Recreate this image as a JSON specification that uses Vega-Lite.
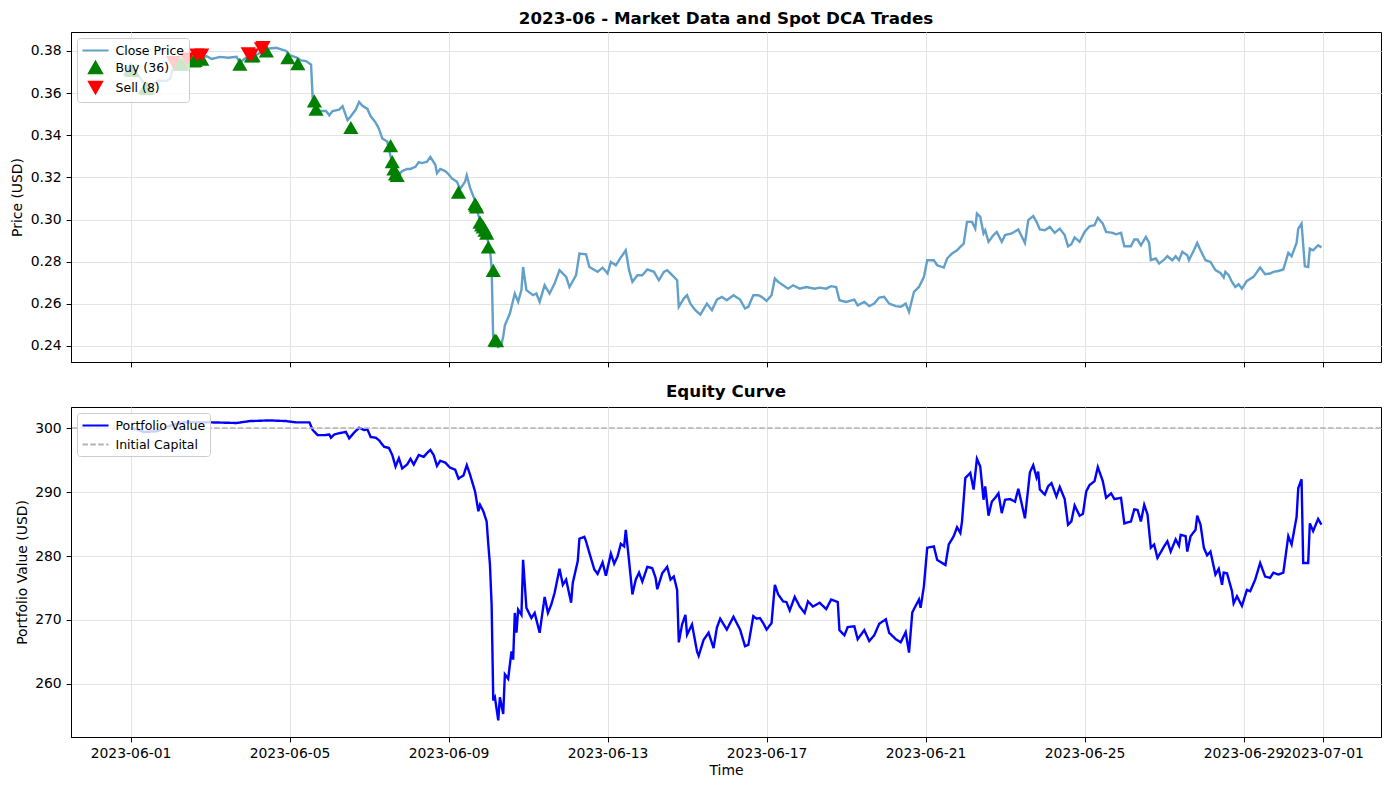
{
  "$schema": "https://vega.github.io/schema/vega-lite/v6.json",
  "padding": {"left": 10, "top": 10, "right": 9, "bottom": 5},
  "background": "white",
  "config": {
    "font": "DejaVu Sans",
    "view": {"stroke": "black", "strokeWidth": 1},
    "axis": {
      "labelFont": "DejaVu Sans", "labelFontSize": 13.9, "labelColor": "black",
      "titleFont": "DejaVu Sans", "titleFontSize": 13.9, "titleFontWeight": "normal", "titleColor": "black",
      "tickColor": "black", "tickSize": 4.9, "tickWidth": 1,
      "domainColor": "black", "domainWidth": 1,
      "gridColor": "#e3e3e3", "gridWidth": 1,
      "labelPadding": 4.9, "titlePadding": 5.6,
      "labelOverlap": false, "labelFlush": false
    },
    "axisX": {"titlePadding": 3},
    "title": {"font": "DejaVu Sans", "fontSize": 16.7, "fontWeight": "bold", "color": "black", "offset": 6, "anchor": "middle", "frame": "group"},
    "legend": {
      "orient": "top-left", "offset": 6, "padding": 4.5, "rowPadding": 2,
      "symbolSize": 170, "symbolStrokeWidth": 2, "labelOffset": 12, "symbolOffset": 6,
      "labelFont": "DejaVu Sans", "labelFontSize": 12.5, "labelColor": "black",
      "fillColor": "rgba(255,255,255,0.8)", "strokeColor": "#cccccc", "cornerRadius": 3
    }
  },
  "datasets": {
    "price": [
      {"t":"2023-06-01T00:00","p":0.3710},{"t":"2023-06-01T04:00","p":0.3690},{"t":"2023-06-01T07:00","p":0.3660},{"t":"2023-06-01T10:00","p":0.3625},{"t":"2023-06-01T13:00","p":0.3640},{"t":"2023-06-01T17:00","p":0.3660},{"t":"2023-06-01T22:00","p":0.3658},
      {"t":"2023-06-02T00:00","p":0.3670},{"t":"2023-06-02T02:00","p":0.3730},{"t":"2023-06-02T06:00","p":0.3740},{"t":"2023-06-02T11:00","p":0.3755},{"t":"2023-06-02T14:00","p":0.3760},{"t":"2023-06-02T18:00","p":0.3772},{"t":"2023-06-02T22:00","p":0.3775},
      {"t":"2023-06-03T01:00","p":0.3762},{"t":"2023-06-03T06:00","p":0.3772},{"t":"2023-06-03T11:00","p":0.3768},{"t":"2023-06-03T16:00","p":0.3772},{"t":"2023-06-03T18:00","p":0.3745},{"t":"2023-06-03T22:00","p":0.3770},
      {"t":"2023-06-04T01:00","p":0.3778},{"t":"2023-06-04T05:00","p":0.3785},{"t":"2023-06-04T08:00","p":0.3805},{"t":"2023-06-04T12:00","p":0.3812},{"t":"2023-06-04T16:00","p":0.3815},{"t":"2023-06-04T19:00","p":0.3808},{"t":"2023-06-04T22:00","p":0.3800},
      {"t":"2023-06-05T00:00","p":0.3780},{"t":"2023-06-05T04:00","p":0.3770},{"t":"2023-06-05T07:00","p":0.3755},{"t":"2023-06-05T10:00","p":0.3752},{"t":"2023-06-05T13:00","p":0.3735},{"t":"2023-06-05T14:00","p":0.3570},{"t":"2023-06-05T16:00","p":0.3530},{"t":"2023-06-05T18:00","p":0.3515},{"t":"2023-06-05T22:00","p":0.3515},
      {"t":"2023-06-06T00:00","p":0.3495},{"t":"2023-06-06T02:00","p":0.3515},{"t":"2023-06-06T06:00","p":0.3522},{"t":"2023-06-06T08:00","p":0.3538},{"t":"2023-06-06T11:00","p":0.3472},{"t":"2023-06-06T13:00","p":0.3490},{"t":"2023-06-06T16:00","p":0.3522},{"t":"2023-06-06T18:00","p":0.3558},{"t":"2023-06-06T20:00","p":0.3540},{"t":"2023-06-06T23:00","p":0.3525},
      {"t":"2023-06-07T01:00","p":0.3490},{"t":"2023-06-07T04:00","p":0.3460},{"t":"2023-06-07T06:00","p":0.3430},{"t":"2023-06-07T08:00","p":0.3385},{"t":"2023-06-07T11:00","p":0.3370},{"t":"2023-06-07T13:00","p":0.3300},{"t":"2023-06-07T16:00","p":0.3225},{"t":"2023-06-07T18:00","p":0.3215},{"t":"2023-06-07T20:00","p":0.3230},{"t":"2023-06-07T23:00","p":0.3240},
      {"t":"2023-06-08T01:00","p":0.3240},{"t":"2023-06-08T04:00","p":0.3250},{"t":"2023-06-08T06:00","p":0.3272},{"t":"2023-06-08T08:00","p":0.3268},{"t":"2023-06-08T11:00","p":0.3275},{"t":"2023-06-08T13:00","p":0.3297},{"t":"2023-06-08T16:00","p":0.3260},{"t":"2023-06-08T17:00","p":0.3220},{"t":"2023-06-08T19:00","p":0.3240},{"t":"2023-06-08T22:00","p":0.3230},
      {"t":"2023-06-09T00:00","p":0.3215},{"t":"2023-06-09T02:00","p":0.3195},{"t":"2023-06-09T05:00","p":0.3180},{"t":"2023-06-09T07:00","p":0.3145},{"t":"2023-06-09T10:00","p":0.3180},{"t":"2023-06-09T11:00","p":0.3210},{"t":"2023-06-09T13:00","p":0.3150},{"t":"2023-06-09T16:00","p":0.3090},{"t":"2023-06-09T18:00","p":0.3020},{"t":"2023-06-09T20:00","p":0.2980},{"t":"2023-06-09T23:00","p":0.2920},
      {"t":"2023-06-10T01:00","p":0.2860},{"t":"2023-06-10T02:00","p":0.2770},{"t":"2023-06-10T03:00","p":0.2420},{"t":"2023-06-10T06:00","p":0.2395},{"t":"2023-06-10T08:00","p":0.2410},{"t":"2023-06-10T09:00","p":0.2445},{"t":"2023-06-10T10:00","p":0.2498},{"t":"2023-06-10T13:00","p":0.2554},{"t":"2023-06-10T16:00","p":0.2649},{"t":"2023-06-10T18:00","p":0.2610},{"t":"2023-06-10T20:00","p":0.2665},{"t":"2023-06-10T21:00","p":0.2775},{"t":"2023-06-10T23:00","p":0.2665},
      {"t":"2023-06-11T03:00","p":0.2641},{"t":"2023-06-11T05:00","p":0.2649},{"t":"2023-06-11T07:00","p":0.2609},{"t":"2023-06-11T10:00","p":0.2688},{"t":"2023-06-11T13:00","p":0.2649},{"t":"2023-06-11T16:00","p":0.2696},{"t":"2023-06-11T19:00","p":0.2760},{"t":"2023-06-11T23:00","p":0.2728},
      {"t":"2023-06-12T01:00","p":0.2680},{"t":"2023-06-12T05:00","p":0.2736},{"t":"2023-06-12T07:00","p":0.2839},{"t":"2023-06-12T11:00","p":0.2835},{"t":"2023-06-12T13:00","p":0.2775},{"t":"2023-06-12T18:00","p":0.2752},{"t":"2023-06-12T21:00","p":0.2772},
      {"t":"2023-06-13T00:00","p":0.2744},{"t":"2023-06-13T02:00","p":0.2799},{"t":"2023-06-13T05:00","p":0.2783},{"t":"2023-06-13T08:00","p":0.2820},{"t":"2023-06-13T11:00","p":0.2854},{"t":"2023-06-13T13:00","p":0.2760},{"t":"2023-06-13T15:00","p":0.2704},{"t":"2023-06-13T18:00","p":0.2736},{"t":"2023-06-13T21:00","p":0.2736},
      {"t":"2023-06-14T00:00","p":0.2763},{"t":"2023-06-14T04:00","p":0.2752},{"t":"2023-06-14T07:00","p":0.2712},{"t":"2023-06-14T10:00","p":0.2752},{"t":"2023-06-14T12:00","p":0.2760},{"t":"2023-06-14T15:00","p":0.2736},{"t":"2023-06-14T18:00","p":0.2712},{"t":"2023-06-14T19:00","p":0.2586},{"t":"2023-06-14T22:00","p":0.2625},
      {"t":"2023-06-15T00:00","p":0.2641},{"t":"2023-06-15T02:00","p":0.2601},{"t":"2023-06-15T05:00","p":0.2570},{"t":"2023-06-15T08:00","p":0.2549},{"t":"2023-06-15T12:00","p":0.2601},{"t":"2023-06-15T15:00","p":0.2570},{"t":"2023-06-15T18:00","p":0.2620},{"t":"2023-06-15T21:00","p":0.2633},
      {"t":"2023-06-16T00:00","p":0.2617},{"t":"2023-06-16T04:00","p":0.2641},{"t":"2023-06-16T08:00","p":0.2620},{"t":"2023-06-16T11:00","p":0.2578},{"t":"2023-06-16T13:00","p":0.2586},{"t":"2023-06-16T16:00","p":0.2641},{"t":"2023-06-16T19:00","p":0.2641},{"t":"2023-06-16T21:00","p":0.2633},
      {"t":"2023-06-17T00:00","p":0.2614},{"t":"2023-06-17T03:00","p":0.2641},{"t":"2023-06-17T05:00","p":0.2720},{"t":"2023-06-17T07:00","p":0.2704},{"t":"2023-06-17T10:00","p":0.2688},{"t":"2023-06-17T13:00","p":0.2672},{"t":"2023-06-17T16:00","p":0.2688},{"t":"2023-06-17T20:00","p":0.2672},
      {"t":"2023-06-18T00:00","p":0.2680},{"t":"2023-06-18T05:00","p":0.2672},{"t":"2023-06-18T08:00","p":0.2677},{"t":"2023-06-18T12:00","p":0.2672},{"t":"2023-06-18T15:00","p":0.2684},{"t":"2023-06-18T18:00","p":0.2680},{"t":"2023-06-18T20:00","p":0.2617},
      {"t":"2023-06-19T00:00","p":0.2609},{"t":"2023-06-19T05:00","p":0.2620},{"t":"2023-06-19T07:00","p":0.2593},{"t":"2023-06-19T11:00","p":0.2609},{"t":"2023-06-19T14:00","p":0.2589},{"t":"2023-06-19T17:00","p":0.2601},{"t":"2023-06-19T20:00","p":0.2630},{"t":"2023-06-19T23:00","p":0.2633},
      {"t":"2023-06-20T02:00","p":0.2601},{"t":"2023-06-20T06:00","p":0.2589},{"t":"2023-06-20T09:00","p":0.2586},{"t":"2023-06-20T12:00","p":0.2601},{"t":"2023-06-20T14:00","p":0.2562},{"t":"2023-06-20T17:00","p":0.2657},{"t":"2023-06-20T20:00","p":0.2680},{"t":"2023-06-20T23:00","p":0.2728},
      {"t":"2023-06-21T01:00","p":0.2807},{"t":"2023-06-21T05:00","p":0.2807},{"t":"2023-06-21T07:00","p":0.2783},{"t":"2023-06-21T11:00","p":0.2772},{"t":"2023-06-21T13:00","p":0.2815},{"t":"2023-06-21T16:00","p":0.2839},{"t":"2023-06-21T19:00","p":0.2854},{"t":"2023-06-21T21:00","p":0.2870},{"t":"2023-06-21T23:00","p":0.2886},
      {"t":"2023-06-22T01:00","p":0.2989},{"t":"2023-06-22T04:00","p":0.2989},{"t":"2023-06-22T06:00","p":0.2957},{"t":"2023-06-22T07:00","p":0.3028},{"t":"2023-06-22T09:00","p":0.3013},{"t":"2023-06-22T11:00","p":0.2934},{"t":"2023-06-22T12:00","p":0.2949},{"t":"2023-06-22T14:00","p":0.2894},{"t":"2023-06-22T17:00","p":0.2926},{"t":"2023-06-22T19:00","p":0.2941},{"t":"2023-06-22T22:00","p":0.2894},
      {"t":"2023-06-23T00:00","p":0.2926},{"t":"2023-06-23T04:00","p":0.2934},{"t":"2023-06-23T08:00","p":0.2953},{"t":"2023-06-23T12:00","p":0.2889},{"t":"2023-06-23T14:00","p":0.2997},{"t":"2023-06-23T17:00","p":0.3016},{"t":"2023-06-23T19:00","p":0.2989},{"t":"2023-06-23T21:00","p":0.2953},
      {"t":"2023-06-24T00:00","p":0.2949},{"t":"2023-06-24T03:00","p":0.2965},{"t":"2023-06-24T06:00","p":0.2937},{"t":"2023-06-24T09:00","p":0.2957},{"t":"2023-06-24T12:00","p":0.2926},{"t":"2023-06-24T14:00","p":0.2873},{"t":"2023-06-24T16:00","p":0.2883},{"t":"2023-06-24T18:00","p":0.2915},{"t":"2023-06-24T21:00","p":0.2894},
      {"t":"2023-06-25T00:00","p":0.2941},{"t":"2023-06-25T03:00","p":0.2968},{"t":"2023-06-25T06:00","p":0.2973},{"t":"2023-06-25T08:00","p":0.3009},{"t":"2023-06-25T11:00","p":0.2981},{"t":"2023-06-25T13:00","p":0.2941},{"t":"2023-06-25T17:00","p":0.2937},{"t":"2023-06-25T19:00","p":0.2930},{"t":"2023-06-25T22:00","p":0.2937},
      {"t":"2023-06-26T00:00","p":0.2873},{"t":"2023-06-26T04:00","p":0.2873},{"t":"2023-06-26T06:00","p":0.2905},{"t":"2023-06-26T08:00","p":0.2905},{"t":"2023-06-26T10:00","p":0.2878},{"t":"2023-06-26T13:00","p":0.2918},{"t":"2023-06-26T15:00","p":0.2889},{"t":"2023-06-26T16:00","p":0.2807},{"t":"2023-06-26T19:00","p":0.2815},{"t":"2023-06-26T21:00","p":0.2791},
      {"t":"2023-06-27T00:00","p":0.2810},{"t":"2023-06-27T02:00","p":0.2826},{"t":"2023-06-27T05:00","p":0.2807},{"t":"2023-06-27T07:00","p":0.2826},{"t":"2023-06-27T09:00","p":0.2807},{"t":"2023-06-27T11:00","p":0.2847},{"t":"2023-06-27T14:00","p":0.2831},{"t":"2023-06-27T15:00","p":0.2807},{"t":"2023-06-27T18:00","p":0.2854},{"t":"2023-06-27T20:00","p":0.2889},{"t":"2023-06-27T22:00","p":0.2854},
      {"t":"2023-06-28T01:00","p":0.2807},{"t":"2023-06-28T04:00","p":0.2799},{"t":"2023-06-28T07:00","p":0.2760},{"t":"2023-06-28T10:00","p":0.2747},{"t":"2023-06-28T12:00","p":0.2725},{"t":"2023-06-28T13:00","p":0.2752},{"t":"2023-06-28T15:00","p":0.2736},{"t":"2023-06-28T17:00","p":0.2704},{"t":"2023-06-28T19:00","p":0.2680},{"t":"2023-06-28T21:00","p":0.2693},{"t":"2023-06-28T23:00","p":0.2672},
      {"t":"2023-06-29T02:00","p":0.2709},{"t":"2023-06-29T06:00","p":0.2728},{"t":"2023-06-29T10:00","p":0.2772},{"t":"2023-06-29T13:00","p":0.2741},{"t":"2023-06-29T16:00","p":0.2744},{"t":"2023-06-29T18:00","p":0.2752},{"t":"2023-06-29T21:00","p":0.2756},
      {"t":"2023-06-30T00:00","p":0.2763},{"t":"2023-06-30T03:00","p":0.2842},{"t":"2023-06-30T05:00","p":0.2826},{"t":"2023-06-30T08:00","p":0.2889},{"t":"2023-06-30T09:00","p":0.2957},{"t":"2023-06-30T11:00","p":0.2981},{"t":"2023-06-30T13:00","p":0.2778},{"t":"2023-06-30T15:00","p":0.2775},{"t":"2023-06-30T16:00","p":0.2862},{"t":"2023-06-30T18:00","p":0.2854},{"t":"2023-06-30T21:00","p":0.2878},{"t":"2023-06-30T23:00","p":0.2868}
    ],
    "buys": [
      {"t":"2023-06-01T00:00","p":0.3713},{"t":"2023-06-01T01:00","p":0.3708},{"t":"2023-06-01T09:00","p":0.3626},{"t":"2023-06-01T10:00","p":0.3622},
      {"t":"2023-06-02T06:00","p":0.3737},{"t":"2023-06-02T07:00","p":0.3739},{"t":"2023-06-02T14:00","p":0.3753},{"t":"2023-06-02T15:00","p":0.3755},{"t":"2023-06-02T19:00","p":0.3761},
      {"t":"2023-06-03T18:00","p":0.3737},{"t":"2023-06-04T01:00","p":0.3776},{"t":"2023-06-04T02:00","p":0.3778},{"t":"2023-06-04T10:00","p":0.3800},{"t":"2023-06-04T23:00","p":0.3768},
      {"t":"2023-06-05T05:00","p":0.3740},{"t":"2023-06-05T15:00","p":0.3563},{"t":"2023-06-05T16:00","p":0.3524},{"t":"2023-06-06T13:00","p":0.3437},
      {"t":"2023-06-07T13:00","p":0.3351},{"t":"2023-06-07T14:00","p":0.3275},{"t":"2023-06-07T15:00","p":0.3240},{"t":"2023-06-07T16:00","p":0.3217},{"t":"2023-06-07T17:00","p":0.3209},
      {"t":"2023-06-09T06:00","p":0.3130},{"t":"2023-06-09T16:00","p":0.3075},{"t":"2023-06-09T16:30","p":0.3068},{"t":"2023-06-09T17:00","p":0.3060},{"t":"2023-06-09T19:00","p":0.2988},{"t":"2023-06-09T20:00","p":0.2975},{"t":"2023-06-09T21:00","p":0.2965},{"t":"2023-06-09T22:00","p":0.2949},{"t":"2023-06-09T23:00","p":0.2935},
      {"t":"2023-06-10T00:00","p":0.2870},{"t":"2023-06-10T03:00","p":0.2759},{"t":"2023-06-10T04:00","p":0.2428},{"t":"2023-06-10T05:00","p":0.2425}
    ],
    "sells": [
      {"t":"2023-06-02T02:00","p":0.3745},{"t":"2023-06-02T10:00","p":0.3761},{"t":"2023-06-02T16:00","p":0.3781},{"t":"2023-06-02T19:00","p":0.3781},
      {"t":"2023-06-03T23:00","p":0.3787},{"t":"2023-06-04T01:00","p":0.3780},{"t":"2023-06-04T07:00","p":0.3810},{"t":"2023-06-04T08:00","p":0.3816}
    ],
    "equity": [
      {"t":"2023-06-01T00:00","v":300.0},{"t":"2023-06-01T04:00","v":299.8},{"t":"2023-06-01T08:00","v":299.4},{"t":"2023-06-01T16:00","v":299.5},
      {"t":"2023-06-02T00:00","v":300.4},{"t":"2023-06-02T08:00","v":300.9},{"t":"2023-06-03T00:00","v":300.9},{"t":"2023-06-03T16:00","v":300.8},
      {"t":"2023-06-04T00:00","v":301.1},{"t":"2023-06-04T12:00","v":301.2},{"t":"2023-06-04T22:00","v":301.1},
      {"t":"2023-06-05T04:00","v":300.9},{"t":"2023-06-05T12:00","v":300.9},{"t":"2023-06-05T14:00","v":299.7},{"t":"2023-06-05T17:00","v":298.9},{"t":"2023-06-05T21:00","v":298.9},
      {"t":"2023-06-06T00:00","v":299.0},{"t":"2023-06-06T01:00","v":298.5},{"t":"2023-06-06T03:00","v":299.0},{"t":"2023-06-06T06:00","v":299.2},{"t":"2023-06-06T10:00","v":299.4},{"t":"2023-06-06T12:00","v":298.4},{"t":"2023-06-06T15:00","v":299.3},{"t":"2023-06-06T18:00","v":300.05},{"t":"2023-06-06T21:00","v":299.7},{"t":"2023-06-06T23:00","v":299.8},
      {"t":"2023-06-07T01:00","v":298.6},{"t":"2023-06-07T04:00","v":298.5},{"t":"2023-06-07T06:00","v":298.1},{"t":"2023-06-07T09:00","v":297.1},{"t":"2023-06-07T12:00","v":296.9},{"t":"2023-06-07T14:00","v":295.8},{"t":"2023-06-07T16:00","v":294.0},{"t":"2023-06-07T18:00","v":295.3},{"t":"2023-06-07T20:00","v":293.7},{"t":"2023-06-07T23:00","v":294.3},
      {"t":"2023-06-08T01:00","v":295.2},{"t":"2023-06-08T03:00","v":294.3},{"t":"2023-06-08T06:00","v":295.8},{"t":"2023-06-08T09:00","v":295.5},{"t":"2023-06-08T11:00","v":296.1},{"t":"2023-06-08T13:00","v":296.6},{"t":"2023-06-08T15:00","v":295.8},{"t":"2023-06-08T17:00","v":294.1},{"t":"2023-06-08T19:00","v":294.9},{"t":"2023-06-08T22:00","v":294.6},
      {"t":"2023-06-09T01:00","v":293.8},{"t":"2023-06-09T04:00","v":293.5},{"t":"2023-06-09T06:00","v":292.1},{"t":"2023-06-09T09:00","v":292.6},{"t":"2023-06-09T11:00","v":294.2},{"t":"2023-06-09T13:00","v":292.7},{"t":"2023-06-09T16:00","v":290.1},{"t":"2023-06-09T18:00","v":287.0},{"t":"2023-06-09T19:00","v":288.0},{"t":"2023-06-09T21:00","v":287.0},{"t":"2023-06-09T23:00","v":285.4},
      {"t":"2023-06-10T00:00","v":281.8},{"t":"2023-06-10T01:00","v":278.6},{"t":"2023-06-10T02:00","v":272.4},{"t":"2023-06-10T03:00","v":257.4},{"t":"2023-06-10T04:00","v":257.9},{"t":"2023-06-10T06:00","v":254.3},{"t":"2023-06-10T07:00","v":257.9},{"t":"2023-06-10T09:00","v":255.3},{"t":"2023-06-10T10:00","v":261.5},{"t":"2023-06-10T12:00","v":260.8},{"t":"2023-06-10T14:00","v":265.1},{"t":"2023-06-10T15:00","v":263.8},{"t":"2023-06-10T16:00","v":271.1},{"t":"2023-06-10T17:00","v":268.0},{"t":"2023-06-10T18:00","v":271.6},{"t":"2023-06-10T20:00","v":270.8},{"t":"2023-06-10T21:00","v":279.4},{"t":"2023-06-10T23:00","v":271.9},
      {"t":"2023-06-11T02:00","v":270.3},{"t":"2023-06-11T04:00","v":271.1},{"t":"2023-06-11T07:00","v":268.0},{"t":"2023-06-11T10:00","v":273.6},{"t":"2023-06-11T12:00","v":271.1},{"t":"2023-06-11T14:00","v":272.4},{"t":"2023-06-11T16:00","v":274.2},{"t":"2023-06-11T19:00","v":278.0},{"t":"2023-06-11T21:00","v":275.5},{"t":"2023-06-11T23:00","v":276.3},
      {"t":"2023-06-12T02:00","v":272.7},{"t":"2023-06-12T03:00","v":275.8},{"t":"2023-06-12T06:00","v":279.2},{"t":"2023-06-12T07:00","v":282.7},{"t":"2023-06-12T10:00","v":283.0},{"t":"2023-06-12T11:00","v":282.3},{"t":"2023-06-12T13:00","v":280.5},{"t":"2023-06-12T16:00","v":277.9},{"t":"2023-06-12T18:00","v":277.2},{"t":"2023-06-12T21:00","v":279.0},{"t":"2023-06-12T23:00","v":276.9},
      {"t":"2023-06-13T02:00","v":280.4},{"t":"2023-06-13T04:00","v":278.8},{"t":"2023-06-13T06:00","v":279.9},{"t":"2023-06-13T08:00","v":281.9},{"t":"2023-06-13T10:00","v":281.5},{"t":"2023-06-13T11:00","v":284.1},{"t":"2023-06-13T13:00","v":279.2},{"t":"2023-06-13T15:00","v":274.0},{"t":"2023-06-13T17:00","v":276.3},{"t":"2023-06-13T19:00","v":277.4},{"t":"2023-06-13T21:00","v":276.0},
      {"t":"2023-06-14T00:00","v":278.3},{"t":"2023-06-14T03:00","v":278.1},{"t":"2023-06-14T05:00","v":276.6},{"t":"2023-06-14T06:00","v":274.8},{"t":"2023-06-14T09:00","v":277.3},{"t":"2023-06-14T12:00","v":278.3},{"t":"2023-06-14T14:00","v":276.3},{"t":"2023-06-14T16:00","v":276.8},{"t":"2023-06-14T18:00","v":274.7},{"t":"2023-06-14T19:00","v":266.5},{"t":"2023-06-14T21:00","v":269.3},{"t":"2023-06-14T23:00","v":270.8},
      {"t":"2023-06-15T00:00","v":267.7},{"t":"2023-06-15T03:00","v":269.3},{"t":"2023-06-15T06:00","v":265.1},{"t":"2023-06-15T07:00","v":264.4},{"t":"2023-06-15T10:00","v":266.9},{"t":"2023-06-15T13:00","v":268.0},{"t":"2023-06-15T16:00","v":265.6},{"t":"2023-06-15T18:00","v":268.8},{"t":"2023-06-15T20:00","v":270.2},
      {"t":"2023-06-16T00:00","v":268.5},{"t":"2023-06-16T04:00","v":270.5},{"t":"2023-06-16T08:00","v":268.5},{"t":"2023-06-16T11:00","v":265.9},{"t":"2023-06-16T13:00","v":266.1},{"t":"2023-06-16T16:00","v":270.6},{"t":"2023-06-16T18:00","v":270.2},{"t":"2023-06-16T20:00","v":270.3},{"t":"2023-06-16T22:00","v":269.5},
      {"t":"2023-06-17T00:00","v":268.5},{"t":"2023-06-17T03:00","v":269.5},{"t":"2023-06-17T05:00","v":275.5},{"t":"2023-06-17T07:00","v":274.0},{"t":"2023-06-17T10:00","v":272.9},{"t":"2023-06-17T12:00","v":272.8},{"t":"2023-06-17T14:00","v":271.5},{"t":"2023-06-17T17:00","v":273.6},{"t":"2023-06-17T20:00","v":272.1},{"t":"2023-06-17T23:00","v":271.1},
      {"t":"2023-06-18T01:00","v":272.9},{"t":"2023-06-18T04:00","v":272.1},{"t":"2023-06-18T08:00","v":272.7},{"t":"2023-06-18T12:00","v":271.7},{"t":"2023-06-18T15:00","v":273.2},{"t":"2023-06-18T19:00","v":272.8},{"t":"2023-06-18T20:00","v":268.4},{"t":"2023-06-18T23:00","v":267.6},
      {"t":"2023-06-19T01:00","v":268.9},{"t":"2023-06-19T05:00","v":269.0},{"t":"2023-06-19T07:00","v":267.0},{"t":"2023-06-19T11:00","v":268.4},{"t":"2023-06-19T14:00","v":266.7},{"t":"2023-06-19T17:00","v":267.6},{"t":"2023-06-19T20:00","v":269.4},
      {"t":"2023-06-20T00:00","v":270.1},{"t":"2023-06-20T02:00","v":268.0},{"t":"2023-06-20T06:00","v":267.0},{"t":"2023-06-20T09:00","v":266.5},{"t":"2023-06-20T12:00","v":268.1},{"t":"2023-06-20T14:00","v":264.9},{"t":"2023-06-20T16:00","v":271.2},{"t":"2023-06-20T20:00","v":273.2},{"t":"2023-06-20T21:00","v":271.9},{"t":"2023-06-20T23:00","v":275.3},
      {"t":"2023-06-21T01:00","v":281.3},{"t":"2023-06-21T05:00","v":281.5},{"t":"2023-06-21T07:00","v":279.4},{"t":"2023-06-21T10:00","v":278.9},{"t":"2023-06-21T12:00","v":278.6},{"t":"2023-06-21T14:00","v":281.8},{"t":"2023-06-21T17:00","v":283.1},{"t":"2023-06-21T19:00","v":284.5},{"t":"2023-06-21T21:00","v":283.6},{"t":"2023-06-21T22:00","v":285.4},
      {"t":"2023-06-22T00:00","v":292.2},{"t":"2023-06-22T03:00","v":293.0},{"t":"2023-06-22T05:00","v":290.4},{"t":"2023-06-22T07:00","v":295.2},{"t":"2023-06-22T09:00","v":294.0},{"t":"2023-06-22T11:00","v":288.8},{"t":"2023-06-22T12:00","v":290.9},{"t":"2023-06-22T14:00","v":286.3},{"t":"2023-06-22T16:00","v":288.5},{"t":"2023-06-22T18:00","v":289.1},{"t":"2023-06-22T20:00","v":289.8},{"t":"2023-06-22T22:00","v":286.7},
      {"t":"2023-06-23T00:00","v":288.8},{"t":"2023-06-23T03:00","v":288.9},{"t":"2023-06-23T06:00","v":288.5},{"t":"2023-06-23T08:00","v":290.5},{"t":"2023-06-23T12:00","v":285.9},{"t":"2023-06-23T15:00","v":293.1},{"t":"2023-06-23T17:00","v":294.2},{"t":"2023-06-23T19:00","v":292.3},{"t":"2023-06-23T20:00","v":293.2},{"t":"2023-06-23T21:00","v":290.4},
      {"t":"2023-06-24T00:00","v":289.6},{"t":"2023-06-24T02:00","v":290.9},{"t":"2023-06-24T04:00","v":291.4},{"t":"2023-06-24T07:00","v":289.3},{"t":"2023-06-24T09:00","v":290.8},{"t":"2023-06-24T12:00","v":288.9},{"t":"2023-06-24T14:00","v":284.9},{"t":"2023-06-24T16:00","v":285.4},{"t":"2023-06-24T18:00","v":287.9},{"t":"2023-06-24T21:00","v":286.3},{"t":"2023-06-24T23:00","v":286.6},
      {"t":"2023-06-25T01:00","v":290.1},{"t":"2023-06-25T03:00","v":291.1},{"t":"2023-06-25T06:00","v":291.7},{"t":"2023-06-25T08:00","v":293.9},{"t":"2023-06-25T11:00","v":291.7},{"t":"2023-06-25T13:00","v":289.1},{"t":"2023-06-25T16:00","v":289.8},{"t":"2023-06-25T18:00","v":288.9},{"t":"2023-06-25T22:00","v":289.1},
      {"t":"2023-06-26T00:00","v":285.1},{"t":"2023-06-26T04:00","v":285.4},{"t":"2023-06-26T06:00","v":287.3},{"t":"2023-06-26T08:00","v":287.2},{"t":"2023-06-26T10:00","v":285.4},{"t":"2023-06-26T12:00","v":288.0},{"t":"2023-06-26T14:00","v":286.5},{"t":"2023-06-26T16:00","v":281.3},{"t":"2023-06-26T18:00","v":281.8},{"t":"2023-06-26T20:00","v":279.7},
      {"t":"2023-06-27T00:00","v":281.5},{"t":"2023-06-27T02:00","v":282.3},{"t":"2023-06-27T04:00","v":280.7},{"t":"2023-06-27T07:00","v":282.6},{"t":"2023-06-27T09:00","v":281.6},{"t":"2023-06-27T10:00","v":283.3},{"t":"2023-06-27T13:00","v":283.1},{"t":"2023-06-27T14:00","v":280.7},{"t":"2023-06-27T16:00","v":283.1},{"t":"2023-06-27T19:00","v":284.1},{"t":"2023-06-27T20:00","v":286.3},{"t":"2023-06-27T22:00","v":284.9},
      {"t":"2023-06-28T00:00","v":281.3},{"t":"2023-06-28T02:00","v":280.1},{"t":"2023-06-28T04:00","v":280.7},{"t":"2023-06-28T07:00","v":277.1},{"t":"2023-06-28T09:00","v":278.0},{"t":"2023-06-28T11:00","v":275.5},{"t":"2023-06-28T12:00","v":277.4},{"t":"2023-06-28T14:00","v":277.3},{"t":"2023-06-28T17:00","v":274.5},{"t":"2023-06-28T18:00","v":272.6},{"t":"2023-06-28T20:00","v":273.7},{"t":"2023-06-28T23:00","v":272.2},
      {"t":"2023-06-29T02:00","v":274.7},{"t":"2023-06-29T04:00","v":274.5},{"t":"2023-06-29T07:00","v":276.3},{"t":"2023-06-29T10:00","v":278.9},{"t":"2023-06-29T13:00","v":276.8},{"t":"2023-06-29T16:00","v":276.6},{"t":"2023-06-29T18:00","v":277.4},{"t":"2023-06-29T21:00","v":277.1},
      {"t":"2023-06-30T00:00","v":277.4},{"t":"2023-06-30T03:00","v":283.1},{"t":"2023-06-30T05:00","v":281.8},{"t":"2023-06-30T08:00","v":286.1},{"t":"2023-06-30T09:00","v":290.6},{"t":"2023-06-30T11:00","v":292.0},{"t":"2023-06-30T12:00","v":278.9},{"t":"2023-06-30T15:00","v":278.9},{"t":"2023-06-30T16:00","v":285.1},{"t":"2023-06-30T18:00","v":283.9},{"t":"2023-06-30T21:00","v":285.8},{"t":"2023-06-30T23:00","v":284.9}
    ],
    "capital": [{"c": 300}]
  },
  "spacing": 15,
  "resolve": {"scale": {"x": "independent", "y": "independent", "color": "independent", "shape": "independent", "strokeDash": "independent"}},
  "vconcat": [
    {
      "title": {"text": "2023-06 - Market Data and Spot DCA Trades", "offset": 4},
      "width": 1310,
      "height": 330,
      "layer": [
        {
          "data": {"name": "price"},
          "mark": {"type": "line", "strokeWidth": 2.4, "interpolate": "linear"},
          "encoding": {
            "x": {"field": "t", "type": "temporal",
              "scale": {"domain": [{"year": 2023, "month": 5, "date": 30, "hours": 12, "minutes": 3}, {"year": 2023, "month": 7, "date": 2, "hours": 10, "minutes": 58}]},
              "axis": {"labels": false, "title": null, "grid": true,
                "values": [{"year": 2023, "month": 6, "date": 1}, {"year": 2023, "month": 6, "date": 5}, {"year": 2023, "month": 6, "date": 9}, {"year": 2023, "month": 6, "date": 13}, {"year": 2023, "month": 6, "date": 17}, {"year": 2023, "month": 6, "date": 21}, {"year": 2023, "month": 6, "date": 25}, {"year": 2023, "month": 6, "date": 29}, {"year": 2023, "month": 7, "date": 1}]}},
            "y": {"field": "p", "type": "quantitative",
              "scale": {"domain": [0.2324, 0.389], "zero": false, "nice": false},
              "axis": {"title": "Price (USD)", "values": [0.24, 0.26, 0.28, 0.30, 0.32, 0.34, 0.36, 0.38], "format": ".2f"}},
            "color": {"datum": "Close Price", "type": "nominal",
              "scale": {"domain": ["Close Price", "Buy (36)", "Sell (8)"], "range": ["#62a0ca", "green", "red"]},
              "legend": {"title": null, "rowPadding": 0,
                "encode": {"symbols": {"update": {"fill": {"scale": "color", "field": "value"}, "stroke": {"scale": "color", "field": "value"}, "strokeWidth": {"value": 2}, "opacity": {"value": 1}}}}}}
          }
        },
        {
          "data": {"name": "buys"},
          "mark": {"type": "point", "filled": true, "size": 230, "opacity": 1},
          "encoding": {
            "x": {"field": "t", "type": "temporal"},
            "y": {"field": "p", "type": "quantitative"},
            "color": {"datum": "Buy (36)", "type": "nominal"},
            "shape": {"datum": "Buy (36)", "type": "nominal",
              "scale": {"domain": ["Close Price", "Buy (36)", "Sell (8)"], "range": ["M-2,0L2,0", "triangle-up", "triangle-down"]},
              "legend": {"title": null, "rowPadding": 0}}
          }
        },
        {
          "data": {"name": "sells"},
          "mark": {"type": "point", "filled": true, "size": 230, "opacity": 1},
          "encoding": {
            "x": {"field": "t", "type": "temporal"},
            "y": {"field": "p", "type": "quantitative"},
            "color": {"datum": "Sell (8)", "type": "nominal"},
            "shape": {"datum": "Sell (8)", "type": "nominal"}
          }
        }
      ]
    },
    {
      "title": "Equity Curve",
      "width": 1310,
      "height": 330,
      "layer": [
        {
          "data": {"name": "equity"},
          "mark": {"type": "line", "strokeWidth": 2.4},
          "encoding": {
            "x": {"field": "t", "type": "temporal",
              "scale": {"domain": [{"year": 2023, "month": 5, "date": 30, "hours": 12, "minutes": 3}, {"year": 2023, "month": 7, "date": 2, "hours": 10, "minutes": 58}]},
              "axis": {"title": "Time", "format": "%Y-%m-%d", "grid": true,
                "values": [{"year": 2023, "month": 6, "date": 1}, {"year": 2023, "month": 6, "date": 5}, {"year": 2023, "month": 6, "date": 9}, {"year": 2023, "month": 6, "date": 13}, {"year": 2023, "month": 6, "date": 17}, {"year": 2023, "month": 6, "date": 21}, {"year": 2023, "month": 6, "date": 25}, {"year": 2023, "month": 6, "date": 29}, {"year": 2023, "month": 7, "date": 1}]}},
            "y": {"field": "v", "type": "quantitative",
              "scale": {"domain": [251.7, 303.3], "zero": false, "nice": false},
              "axis": {"title": "Portfolio Value (USD)", "values": [260, 270, 280, 290, 300], "format": "d"}},
            "color": {"datum": "Portfolio Value", "type": "nominal",
              "scale": {"domain": ["Portfolio Value", "Initial Capital"], "range": ["#0000ff", "#b3b3b3"]},
              "legend": {"title": null, "symbolType": "M-2,0L2,0", "rowPadding": 4}},
            "strokeDash": {"datum": "Portfolio Value", "type": "nominal",
              "scale": {"domain": ["Portfolio Value", "Initial Capital"], "range": [[1, 0], [5.5, 2.4]]},
              "legend": {"title": null, "symbolType": "M-2,0L2,0", "rowPadding": 4}}
          }
        },
        {
          "data": {"name": "capital"},
          "mark": {"type": "rule", "strokeWidth": 1.5},
          "encoding": {
            "y": {"field": "c", "type": "quantitative"},
            "color": {"datum": "Initial Capital", "type": "nominal"},
            "strokeDash": {"datum": "Initial Capital", "type": "nominal"}
          }
        }
      ]
    }
  ]
}
